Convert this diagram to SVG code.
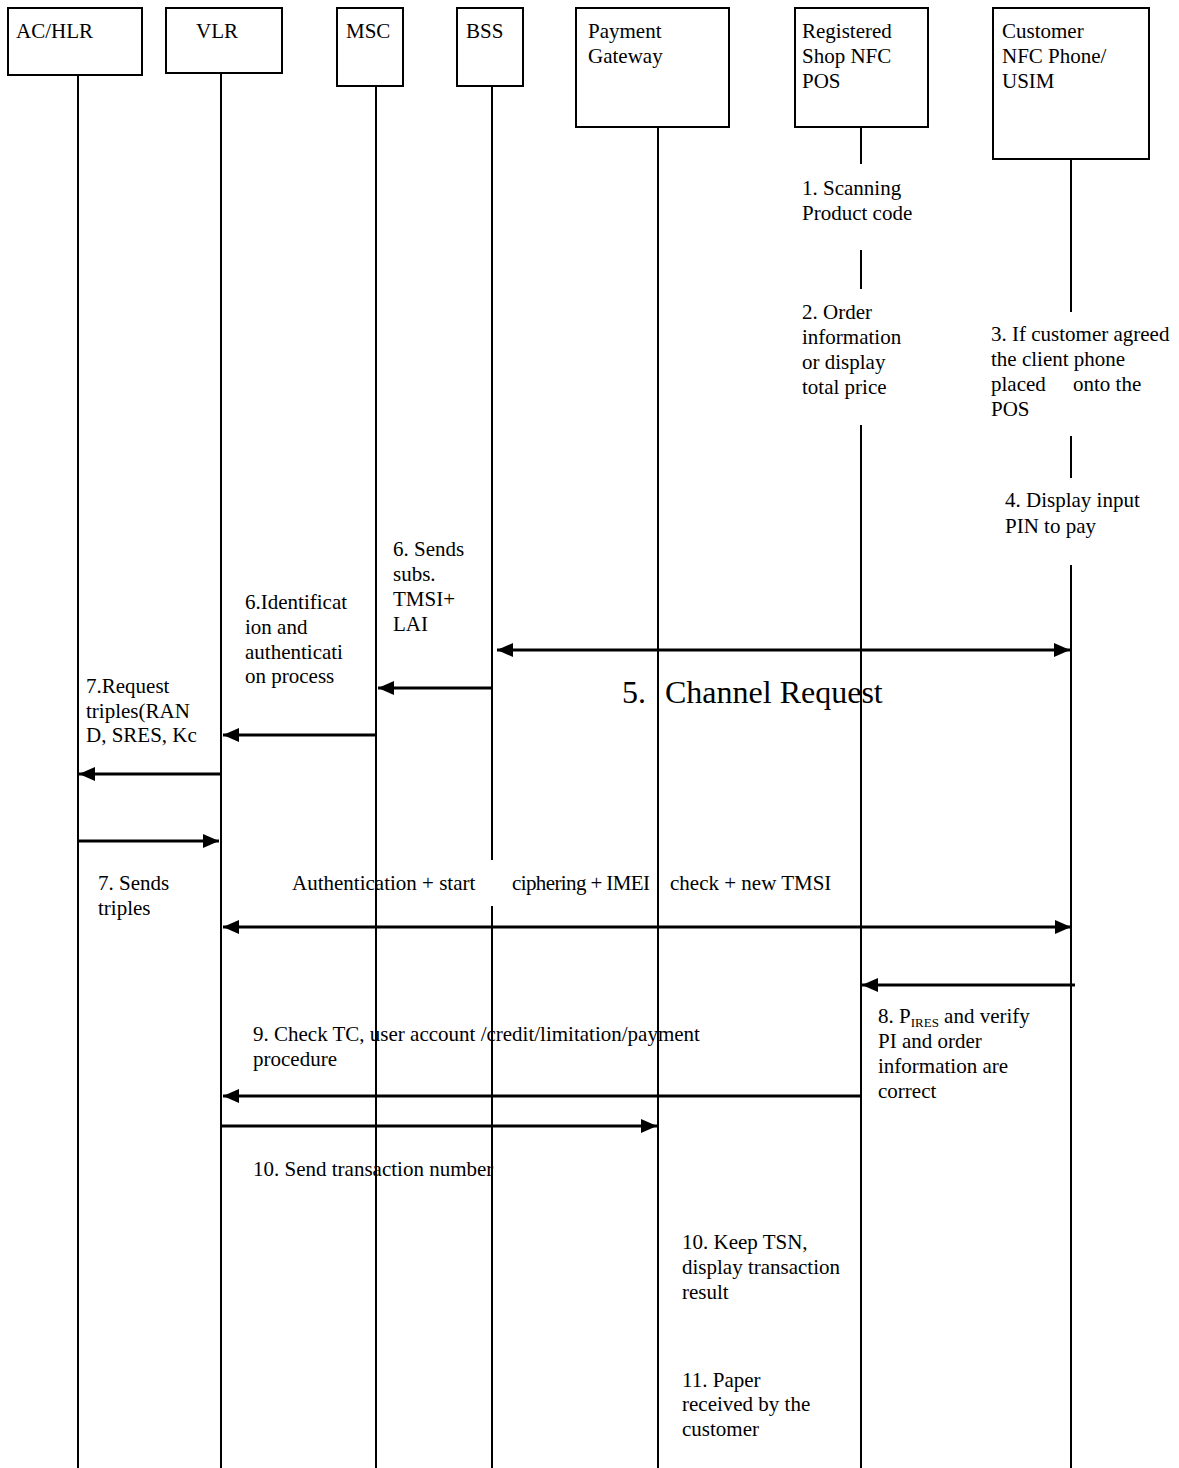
<svg xmlns="http://www.w3.org/2000/svg" width="1179" height="1468" viewBox="0 0 1179 1468">
<style>
text{font-family:"Liberation Serif","Times New Roman",serif;font-size:21px;fill:#000}
.box{fill:#fff;stroke:#000;stroke-width:2}
.life{stroke:#000;stroke-width:2;fill:none}
.msg{stroke:#000;stroke-width:3;fill:none}
.big{font-size:32px}
.sub{font-size:13px}
</style>
<defs>
<marker id="ah" markerUnits="userSpaceOnUse" markerWidth="17" markerHeight="14" refX="16" refY="7" orient="auto-start-reverse" viewBox="0 0 17 14">
<path d="M0,0 L16,7 L0,14 z" fill="#000"/>
</marker>
</defs>
<rect width="1179" height="1468" fill="#fff"/>

<g id="lifelines">
<line class="life" x1="78" y1="75" x2="78" y2="1468"/>
<line class="life" x1="221" y1="73" x2="221" y2="1468"/>
<line class="life" x1="376" y1="86" x2="376" y2="1468"/>
<line class="life" x1="492" y1="86" x2="492" y2="860"/>
<line class="life" x1="492" y1="906" x2="492" y2="1468"/>
<line class="life" x1="658" y1="127" x2="658" y2="1468"/>
<line class="life" x1="861" y1="127" x2="861" y2="164"/>
<line class="life" x1="861" y1="250" x2="861" y2="289"/>
<line class="life" x1="861" y1="425" x2="861" y2="1468"/>
<line class="life" x1="1071" y1="159" x2="1071" y2="312"/>
<line class="life" x1="1071" y1="436" x2="1071" y2="478"/>
<line class="life" x1="1071" y1="565" x2="1071" y2="1468"/>
</g>

<g id="n-achlr"><rect class="box" x="8" y="8" width="134" height="67"/><text x="16" y="38">AC/HLR</text></g>
<g id="n-vlr"><rect class="box" x="166" y="8" width="116" height="65"/><text x="196" y="38">VLR</text></g>
<g id="n-msc"><rect class="box" x="337" y="8" width="66" height="78"/><text x="346" y="38">MSC</text></g>
<g id="n-bss"><rect class="box" x="457" y="8" width="66" height="78"/><text x="466" y="38">BSS</text></g>
<g id="n-pg"><rect class="box" x="576" y="8" width="153" height="119"/><text x="588" y="38">Payment</text><text x="588" y="63">Gateway</text></g>
<g id="n-pos"><rect class="box" x="795" y="8" width="133" height="119"/><text x="802" y="38">Registered</text><text x="802" y="63">Shop NFC</text><text x="802" y="88">POS</text></g>
<g id="n-phone"><rect class="box" x="993" y="8" width="156" height="151"/><text x="1002" y="38">Customer</text><text x="1002" y="63">NFC Phone/</text><text x="1002" y="88">USIM</text></g>

<g id="connectors">
<line class="msg" x1="497" y1="650" x2="1070" y2="650" marker-start="url(#ah)" marker-end="url(#ah)"/>
<line class="msg" x1="492" y1="688" x2="378" y2="688" marker-end="url(#ah)"/>
<line class="msg" x1="376" y1="735" x2="223" y2="735" marker-end="url(#ah)"/>
<line class="msg" x1="221" y1="774" x2="79" y2="774" marker-end="url(#ah)"/>
<line class="msg" x1="78" y1="841" x2="219" y2="841" marker-end="url(#ah)"/>
<line class="msg" x1="223" y1="927" x2="1071" y2="927" marker-start="url(#ah)" marker-end="url(#ah)"/>
<line class="msg" x1="1075" y1="985" x2="862" y2="985" marker-end="url(#ah)"/>
<line class="msg" x1="860" y1="1096" x2="223" y2="1096" marker-end="url(#ah)"/>
<line class="msg" x1="221" y1="1126" x2="657" y2="1126" marker-end="url(#ah)"/>
</g>

<g id="labels">
<text x="802" y="195">1. Scanning</text>
<text x="802" y="220">Product code</text>
<text x="802" y="319">2. Order</text>
<text x="802" y="344">information</text>
<text x="802" y="369">or display</text>
<text x="802" y="394">total price</text>
<text x="991" y="341">3. If customer agreed</text>
<text x="991" y="366">the client phone</text>
<text x="991" y="391">placed</text><text x="1073" y="391">onto the</text>
<text x="991" y="416">POS</text>
<text x="1005" y="507">4. Display input</text>
<text x="1005" y="533">PIN to pay</text>
<text x="393" y="556">6. Sends</text>
<text x="393" y="581">subs.</text>
<text x="393" y="606">TMSI+</text>
<text x="393" y="631">LAI</text>
<text x="245" y="609">6.Identificat</text>
<text x="245" y="634">ion and</text>
<text x="245" y="659">authenticati</text>
<text x="245" y="683">on process</text>
<text x="86" y="693">7.Request</text>
<text x="86" y="718">triples(RAN</text>
<text x="86" y="742">D, SRES, Kc</text>
<text class="big" x="622" y="703">5.</text><text class="big" x="665" y="703">Channel Request</text>
<text x="98" y="890">7. Sends</text>
<text x="98" y="915">triples</text>
<text y="890"><tspan x="292">Authentication + start</tspan><tspan x="512" textLength="138">ciphering + IMEI</tspan><tspan x="670">check + new TMSI</tspan></text>
<text x="878" y="1023">8. P<tspan class="sub" dy="4">IRES</tspan><tspan dy="-4"> and verify</tspan></text>
<text x="878" y="1048">PI and order</text>
<text x="878" y="1073">information are</text>
<text x="878" y="1098">correct</text>
<text x="253" y="1041">9. Check TC, user account /credit/limitation/payment</text>
<text x="253" y="1066">procedure</text>
<text x="253" y="1176">10. Send transaction number</text>
<text x="682" y="1249">10. Keep TSN,</text>
<text x="682" y="1274">display transaction</text>
<text x="682" y="1299">result</text>
<text x="682" y="1387">11. Paper</text>
<text x="682" y="1411">received by the</text>
<text x="682" y="1436">customer</text>
</g>
</svg>
